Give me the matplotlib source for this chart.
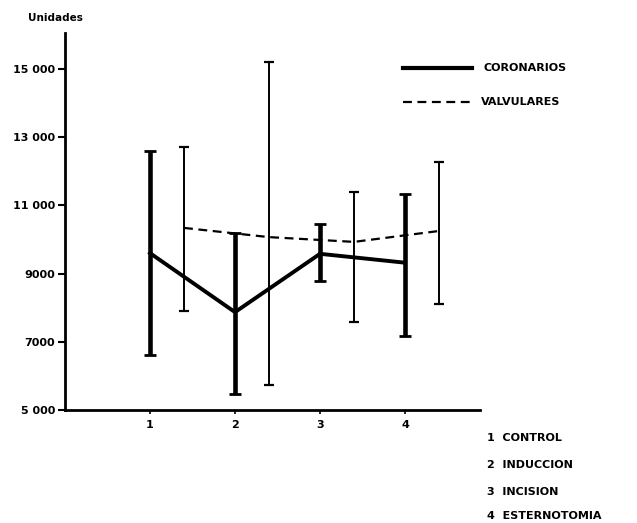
import matplotlib.pyplot as plt

# datos
etapas = [1, 2, 3, 4]
cor_media = [9600, 7870, 9580, 9320]
cor_sup = [12600, 10200, 10450, 11320]
cor_inf = [6620, 5480, 8780, 7170]

valv_x = [1.4, 2.4, 3.4, 4.4]
valv_media = [10340, 10070, 9930, 10250]
valv_sup = [12710, 15200, 11390, 12280]
valv_inf = [7910, 5730, 7580, 8110]

yticks = [5000, 7000, 9000, 11000, 13000, 15000]
ylabels = ['5 000', '7000', '9000', '11 000', '13 000', '15 000']
nombres = ['CONTROL', 'INDUCCION', 'INCISION', 'ESTERNOTOMIA']

fig = plt.figure(figsize=(6.37, 5.23), dpi=100)
ax = fig.add_axes([65/637, 1-410/523, 415/637, 377/523])

cor_err = [[m - b for m, b in zip(cor_media, cor_inf)],
           [t - m for m, t in zip(cor_media, cor_sup)]]
valv_err = [[m - b for m, b in zip(valv_media, valv_inf)],
            [t - m for m, t in zip(valv_media, valv_sup)]]

ax.errorbar(etapas, cor_media, yerr=cor_err, color='black', lw=2.8,
            elinewidth=3.3, capsize=4, capthick=2)
ax.errorbar(valv_x, valv_media, yerr=valv_err, color='black', lw=1.6,
            ls=(0, (4, 2.5)), elinewidth=1.4, capsize=3.5, capthick=1.6)

ax.set_xlim(0, 415/85)
ax.set_ylim(5000, 5000 + 377/34.1*1000)
ax.set_xticks(etapas)
ax.set_xticklabels([str(e) for e in etapas], fontsize=8, fontweight='bold')
ax.set_yticks(yticks)
ax.set_yticklabels(ylabels, fontsize=8, fontweight='bold')
ax.tick_params(axis='y', length=5, width=1.5, pad=2)
ax.tick_params(axis='x', length=3, width=1.2, pad=4)
for s in ['top', 'right']:
    ax.spines[s].set_visible(False)
for s in ['left', 'bottom']:
    ax.spines[s].set_linewidth(2)

fig.text(28/637, 1-18/523, 'Unidades', fontsize=7.5, fontweight='bold',
         va='center', ha='left')

# leyenda
fig.add_artist(plt.Line2D([403/637, 472/637], [1-68/523, 1-68/523],
                          color='black', lw=3))
fig.add_artist(plt.Line2D([403/637, 470/637], [1-102/523, 1-102/523],
                          color='black', lw=1.6, ls=(0, (4, 2.5))))
fig.text(483/637, 1-68/523, 'CORONARIOS', fontsize=8, fontweight='bold',
         va='center', ha='left')
fig.text(481/637, 1-102/523, 'VALVULARES', fontsize=8, fontweight='bold',
         va='center', ha='left')

for i, n in enumerate(nombres):
    y = [438, 465, 492, 516][i]
    fig.text(487/637, 1-y/523, f'{i+1}  {n}', fontsize=8, fontweight='bold',
             va='center', ha='left')

fig.savefig('out.png', dpi=100)
